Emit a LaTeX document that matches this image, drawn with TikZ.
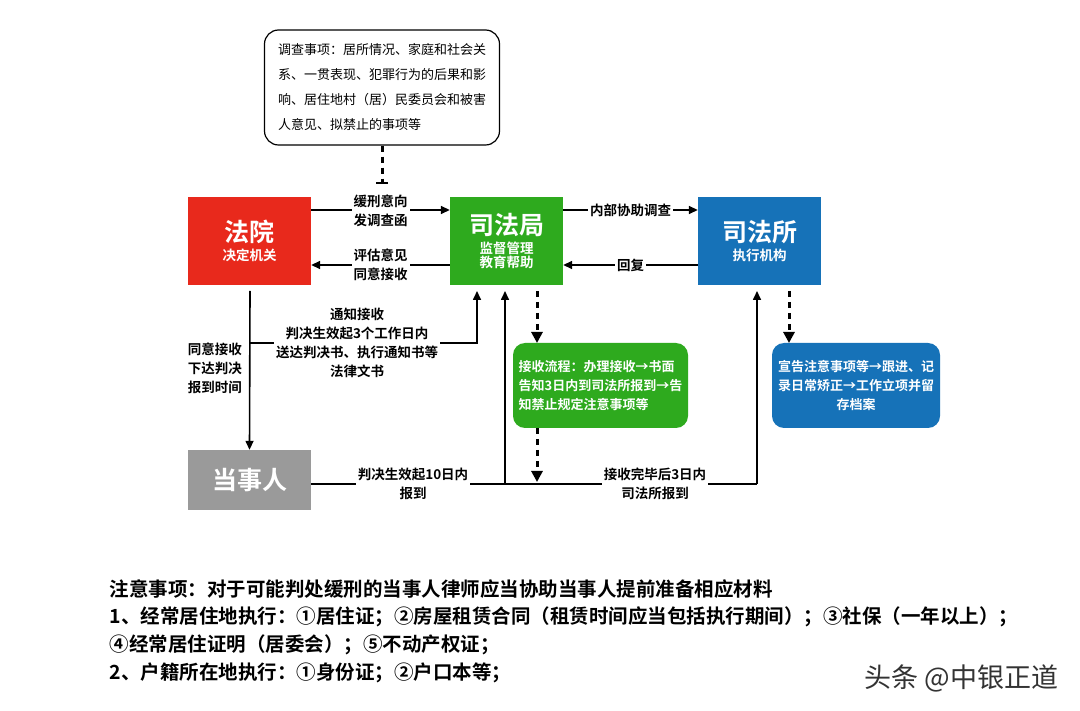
\documentclass[tikz,border=0pt]{standalone}
\usepackage{fontspec}
\setmainfont{Noto Sans CJK SC}
\newfontfamily\cjkb{Noto Sans CJK SC Bold}
\usetikzlibrary{arrows.meta}
\definecolor{cred}{HTML}{E8291C}
\definecolor{cgreen}{HTML}{2EAA1E}
\definecolor{cblue}{HTML}{1672B8}
\definecolor{cgray}{HTML}{9A9A9A}
\tikzset{
 box/.style={minimum width=123pt,minimum height=88pt,align=center,text=white,inner sep=0pt},
 lab/.style={font=\cjkb\fontsize{13.5}{19}\selectfont,align=center,fill=white,inner sep=2pt},
 arr/.style={line width=1.6pt,-{Triangle[length=9pt,width=8pt]}},
 ln/.style={line width=1.6pt},
 dsh/.style={line width=3pt,dash pattern=on 6pt off 5pt,-{Triangle[length=11pt,width=11pt]}},
 rbox/.style={rounded corners=12pt,text=white,align=left,font=\cjkb\fontsize{13}{19}\selectfont,inner sep=5pt}
}
\begin{document}
\begin{tikzpicture}[x=1pt,y=-1pt]
\useasboundingbox[fill=white] (0,0) rectangle (1080,711);
\node[draw,line width=1.2pt,rounded corners=14pt,minimum width=235pt,minimum height=115pt,align=left,font=\fontsize{13}{25}\selectfont,inner sep=0pt] (inv) at (382,87.5) {调查事项：居所情况、家庭和社会关\\系、一贯表现、犯罪行为的后果和影\\响、居住地村（居）民委员会和被害\\人意见、拟禁止的事项等};
\node[box,fill=cred,font=\cjkb] (fy) at (249.5,241) {\fontsize{25}{30}\selectfont 法院\\[4pt]\fontsize{13.5}{16}\selectfont 决定机关};
\node[box,fill=cgreen,minimum width=113pt,font=\cjkb] (sfj) at (506.5,241) {\fontsize{25}{30}\selectfont 司法局\\[4pt]\fontsize{13.5}{19}\selectfont 监督管理\\\fontsize{13.5}{19}\selectfont 教育帮助};
\node[box,fill=cblue,font=\cjkb] (sfs) at (759.5,241) {\fontsize{25}{30}\selectfont 司法所\\[4pt]\fontsize{13.5}{16}\selectfont 执行机构};
\node[box,fill=cgray,minimum height=60pt,font=\cjkb\fontsize{25}{30}\selectfont] (dsr) at (249.5,480) {当事人};
\node[rbox,fill=cgreen,minimum width=175pt,minimum height=85pt] (g2) at (600.5,385.5) {接收流程：办理接收→书面\\告知3日内到司法所报到→告\\知禁止规定注意事项等};
\node[rbox,fill=cblue,minimum width=168pt,minimum height=85pt,align=center] (b2) at (856,385.5) {宣告注意事项等→跟进、记\\录日常矫正→工作立项并留\\存档案};
\draw[line width=3pt,dash pattern=on 6pt off 5pt,-{Bar[width=12pt,line width=2pt]}] (inv.south) -- (382,184);
\draw[arr] (fy.east|-0,210) -- (sfj.west|-0,210) node[lab,midway,yshift=-1pt] {缓刑意向\\发调查函};
\draw[arr] (sfj.west|-0,265) -- (fy.east|-0,265) node[lab,midway] {评估意见\\同意接收};
\draw[arr] (sfj.east|-0,210) -- (sfs.west|-0,210) node[lab,midway] {内部协助调查};
\draw[arr] (sfs.west|-0,265) -- (sfj.east|-0,265) node[lab,midway] {回复};
\draw[arr] (250,291) -- (dsr.north);
\node[lab,anchor=east] (l1) at (244,368) {同意接收\\下达判决\\报到时间};
\coordinate (c1) at (250,343);
\coordinate (c2) at (477,343);
\draw[arr] (c1) -- (c2) -- (477,291);
\node[lab] (l2) at (357,343) {通知接收\\判决生效起3个工作日内\\送达判决书、执行通知书等\\法律文书};
\coordinate (c3) at (757,484);
\coordinate (c4) at (505,484);
\draw[ln] (dsr.east|-0,484) -- (c3);
\draw[arr] (c4) -- (505,291);
\draw[arr] (c3) -- (757,291);
\node[lab] (l3) at (413,484) {判决生效起10日内\\报到};
\node[lab] (l4) at (655,484) {接收完毕后3日内\\司法所报到};
\draw[dsh] (537,291) -- (537,343);
\draw[dsh] (537,428) -- (537,482);
\draw[dsh] (789,291) -- (789,343);
\node[anchor=west,font=\cjkb\fontsize{19.5}{27.7}\selectfont,align=left] (notes) at (106,631) {注意事项：对于可能判处缓刑的当事人律师应当协助当事人提前准备相应材料\\1、经常居住地执行：①居住证；②房屋租赁合同（租赁时间应当包括执行期间）；③社保（一年以上）；\\④经常居住证明（居委会）；⑤不动产权证；\\2、户籍所在地执行：①身份证；②户口本等；};
\node[anchor=east,font=\fontsize{27}{30}\selectfont,text=black!80] (wm) at (1062,678) {头条 @中银正道};
\end{tikzpicture}
\end{document}
